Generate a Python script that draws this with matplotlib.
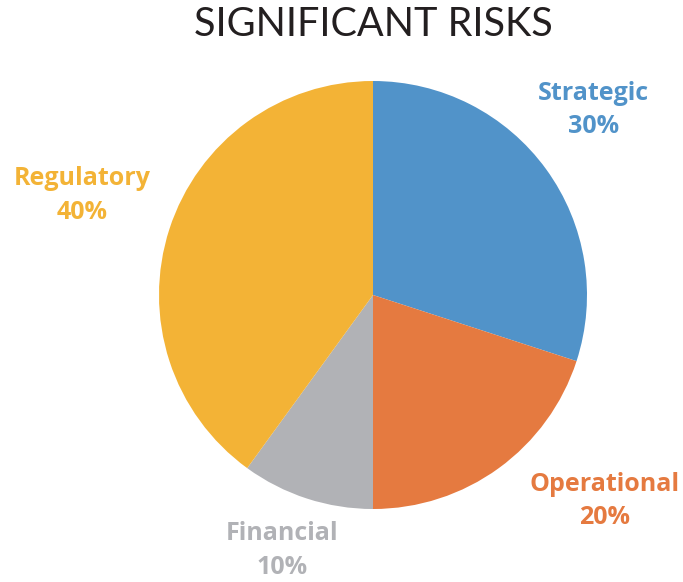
import matplotlib
matplotlib.use("Agg")
import matplotlib.pyplot as plt

# slice data, clockwise from 12 o'clock
categories = ["Strategic", "Operational", "Financial", "Regulatory"]
shares = [30, 20, 10, 40]
colors = ["#5193C9", "#E57A40", "#B1B2B6", "#F3B336"]

# label anchors in pie units (radius = 1)
label_xy = [(1.03, 0.865), (1.08, -0.963), (-0.425, -1.194), (-1.36, 0.465)]

fig = plt.figure(figsize=(6.83, 5.82), dpi=100)
ax = fig.add_axes([159 / 683, (582 - 509) / 582, 428 / 683, 428 / 582])
ax.pie(shares, colors=colors, startangle=90, counterclock=False, radius=1,
       wedgeprops=dict(linewidth=0))
ax.set_xlim(-1, 1); ax.set_ylim(-1, 1)
ax.set_aspect("equal")
ax.axis("off")

for name, val, col, (x, y) in zip(categories, shares, colors, label_xy):
    ax.text(x, y, f"{name}\n{val}%", ha="center", va="center", color=col,
            fontsize=18, fontweight="bold", family=["Open Sans", "DejaVu Sans"],
            linespacing=1.45, clip_on=False)

# title is centred over the pie, not the figure
fig.text(373 / 683, 1 - 25 / 582, "SIGNIFICANT RISKS", ha="center", va="center",
         fontsize=28.5, fontweight="normal", family=["Lato", "DejaVu Sans"], color="#231F20")

fig.savefig("out.png", dpi=100)
